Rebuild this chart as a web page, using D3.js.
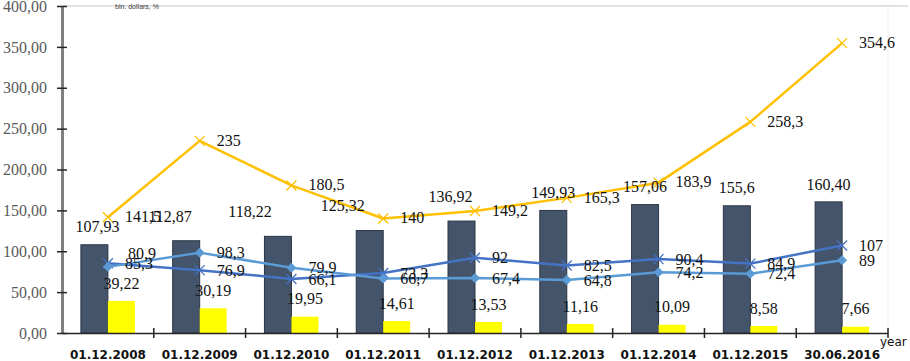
<!DOCTYPE html>
<html>
<head>
<meta charset="utf-8">
<script src="https://cdn.jsdelivr.net/npm/d3@7"></script>
<style>
  body { margin: 0; background: #fff; }
  svg { display: block; }
</style>
</head>
<body>
<div class="chart"></div>
<script>
// data
const years = ["01.12.2008", "01.12.2009", "01.12.2010", "01.12.2011", "01.12.2012",
               "01.12.2013", "01.12.2014", "01.12.2015", "30.06.2016"];
const debtTotal = [107.93, 112.87, 118.22, 125.32, 136.92, 149.93, 157.06, 155.6, 160.40];
const debtTotalText = ["107,93", "112,87", "118,22", "125,32", "136,92", "149,93", "157,06", "155,6", "160,40"];
const debtShare = [39.22, 30.19, 19.95, 14.61, 13.53, 11.16, 10.09, 8.58, 7.66];
const goldLine = [141.5, 235, 180.5, 140, 149.2, 165.3, 183.9, 258.3, 354.6];
const diamondLine = [80.9, 98.3, 79.9, 66.7, 67.4, 64.8, 74.2, 72.4, 89];
const crossLine = [85.3, 76.9, 66.1, 73.3, 92, 82.5, 90.4, 84.9, 107];
const yTicks = [0, 50, 100, 150, 200, 250, 300, 350, 400];

// labels that were dragged by hand in the original (dx, dy in px)
const totalLabelShift = [[3, 0], [-16, -6], [-28, -7], [-27, -7], [-11, -7], [0, 0], [0, 0], [0, 0], [0, 0]];
const diamondLabelShift = [[3, -14], [0, 0], [0, 0], [0, 0], [0, 0], [0, 0], [0, 0], [0, 0], [0, 0]];

const width = 910, height = 361;
const plotL = 62, plotR = 888, plotT = 6, plotB = 333;

const svg = d3.select(".chart")
  .append("svg")
  .attr("width", width)
  .attr("height", height);

const x = d3.scaleBand().domain(years).range([plotL, plotR]).padding(0);
const xs = d3.scaleBand().domain(["total", "share"]).range([0, x.bandwidth()])
  .paddingInner(0).paddingOuter(0.7);
const y = d3.scaleLinear().domain([0, 400]).range([plotB, plotT]);

const fmt = v => String(v).replace(".", ",");
const fmt2 = v => v.toFixed(2).replace(".", ",");
const cx = d => x(d) + x.bandwidth() / 2;

// plot area border (top, right)
svg.append("line").attr("x1", plotL).attr("x2", plotR + 20).attr("y1", y(400)).attr("y2", y(400))
  .attr("stroke", "#d9d9d9").attr("stroke-width", 1.5);
svg.append("line").attr("x1", plotR).attr("x2", plotR).attr("y1", y(400)).attr("y2", plotB)
  .attr("stroke", "#ececec").attr("stroke-width", 1);

svg.append("text")
  .attr("x", 115).attr("y", y(400) + 2.5)
  .attr("font-family", "Liberation Sans").attr("font-size", 7)
  .attr("fill", "#404040")
  .text("bln. dollars, %");

// bars
svg.selectAll(".barTotal")
  .data(debtTotal)
  .enter()
  .append("rect")
  .attr("class", "barTotal")
  .attr("x", (d, i) => x(years[i]) + xs("total"))
  .attr("y", d => y(d))
  .attr("width", xs.bandwidth())
  .attr("height", d => y(0) - y(d))
  .attr("fill", "#44546a")
  .attr("stroke", "#2b3545")
  .attr("stroke-width", 1);

svg.selectAll(".barShare")
  .data(debtShare)
  .enter()
  .append("rect")
  .attr("class", "barShare")
  .attr("x", (d, i) => x(years[i]) + xs("share"))
  .attr("y", d => y(d))
  .attr("width", xs.bandwidth())
  .attr("height", d => y(0) - y(d))
  .attr("fill", "#ffff00");

// axes
const yAxis = svg.append("g")
  .attr("transform", "translate(" + plotL + ",0)")
  .call(d3.axisLeft(y).tickValues(yTicks).tickSize(0).tickPadding(15).tickFormat(fmt2));
yAxis.select(".domain").attr("stroke", "#808080").attr("stroke-width", 3);
yAxis.selectAll("text")
  .attr("font-family", "Liberation Serif").attr("font-size", 16).attr("fill", "#595959");
yAxis.selectAll(".tick").append("line")
  .attr("x1", -5).attr("x2", 5).attr("stroke", "#262626").attr("stroke-width", 1.5);

const xAxis = svg.append("g")
  .attr("transform", "translate(0," + plotB + ")")
  .call(d3.axisBottom(x).tickSize(0).tickPadding(17));
xAxis.select(".domain").attr("stroke", "#262626").attr("stroke-width", 1.5);
xAxis.selectAll("text")
  .attr("font-family", "DejaVu Sans").attr("font-weight", "bold")
  .attr("font-size", 12).attr("fill", "#111");
svg.selectAll(".xTick")
  .data(years)
  .enter()
  .append("line")
  .attr("x1", d => x(d) + x.bandwidth()).attr("x2", d => x(d) + x.bandwidth())
  .attr("y1", plotB - 5).attr("y2", plotB + 5)
  .attr("stroke", "#262626").attr("stroke-width", 1.5);

svg.append("text")
  .attr("x", plotR - 8).attr("y", plotB + 13)
  .attr("font-family", "DejaVu Sans").attr("font-size", 12).attr("fill", "#111")
  .text("year");

// lines
const line = d3.line().x((d, i) => cx(years[i])).y(d => y(d));

function drawSeries(values, color, marker) {
  svg.append("path")
    .datum(values)
    .attr("d", line)
    .attr("fill", "none")
    .attr("stroke", color)
    .attr("stroke-width", 2.5)
    .attr("stroke-linejoin", "round");
  const g = svg.selectAll(null)
    .data(values)
    .enter()
    .append("g")
    .attr("transform", (d, i) => "translate(" + cx(years[i]) + "," + y(d) + ")");
  if (marker === "cross") {
    g.append("path").attr("d", "M-5,-5L5,5M-5,5L5,-5")
      .attr("stroke", color).attr("stroke-width", 1.3).attr("fill", "none");
  } else {
    g.append("path").attr("d", "M0,-5L5,0L0,5L-5,0Z").attr("fill", color);
  }
}

drawSeries(goldLine, "#ffc000", "cross");
drawSeries(crossLine, "#4472c4", "cross");
drawSeries(diamondLine, "#5b9bd5", "diamond");

// data labels
function labels(values, xf, yf, anchor) {
  svg.selectAll(null)
    .data(values)
    .enter()
    .append("text")
    .attr("x", (d, i) => xf(d, i))
    .attr("y", (d, i) => yf(d, i))
    .attr("text-anchor", anchor)
    .attr("dominant-baseline", "middle")
    .attr("font-family", "Liberation Serif")
    .attr("font-size", 16)
    .attr("fill", "#111")
    .text(d => d);
}

labels(debtTotalText,
  (d, i) => x(years[i]) + xs("total") + xs.bandwidth() / 2 + totalLabelShift[i][0],
  (d, i) => y(debtTotal[i]) - 16 + totalLabelShift[i][1], "middle");
labels(debtShare.map(fmt2),
  (d, i) => x(years[i]) + xs("share") + xs.bandwidth() / 2,
  (d, i) => y(debtShare[i]) - 16, "middle");
labels(goldLine.map(fmt), (d, i) => cx(years[i]) + 17, (d, i) => y(goldLine[i]) + 1, "start");
labels(crossLine.map(fmt), (d, i) => cx(years[i]) + 17, (d, i) => y(crossLine[i]) + 2, "start");
labels(diamondLine.map(fmt),
  (d, i) => cx(years[i]) + 17 + diamondLabelShift[i][0],
  (d, i) => y(diamondLine[i]) + 2 + diamondLabelShift[i][1], "start");
</script>
</body>
</html>
